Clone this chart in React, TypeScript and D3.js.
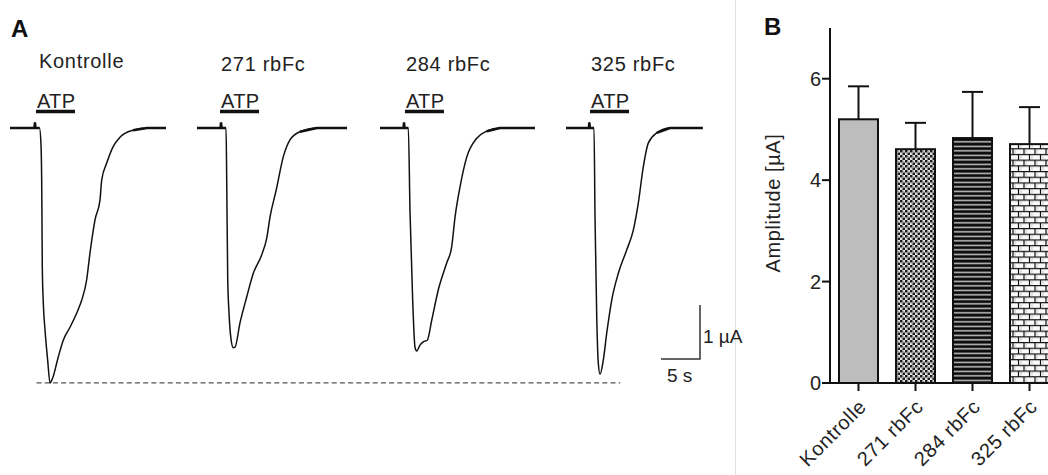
import React from "react";
import * as d3 from "d3";

// ---------- Panel A data: current traces [time (s), current (µA)] ----------
const traceNames = ["Kontrolle", "271 rbFc", "284 rbFc", "325 rbFc"];

const traceKontrolle: [number, number][] = [
  [0, 0], [3.14, 0], [3.2, 0.1], [3.26, 0], [3.78, 0], [3.97, -0.3], [4.06, -0.96], [4.1, -1.67],
  [4.14, -2.57], [4.27, -3.24], [4.49, -3.74], [4.83, -4.3], [5.13, -4.72], [5.47, -4.63],
  [6.19, -4.24], [6.83, -3.93], [7.69, -3.69], [8.72, -3.37], [9.19, -3.19], [9.83, -2.81],
  [10.26, -2.31], [10.9, -1.7], [11.54, -1.33], [11.76, -0.96], [12.4, -0.65], [13.21, -0.35],
  [14.1, -0.17], [15.77, -0.04], [17.56, 0], [20, 0],
];
const trace271: [number, number][] = [
  [0, 0], [3.03, 0], [3.08, 0.1], [3.14, 0], [3.72, 0], [3.81, -0.96], [3.94, -2.81], [4.1, -3.41],
  [4.36, -3.91], [4.65, -4.07], [4.87, -4.06], [5.51, -3.61], [6.37, -3.13], [7.22, -2.69],
  [8.29, -2.35], [8.94, -2.04], [9.36, -1.65], [10.15, -1.15], [11.07, -0.53], [11.92, -0.22],
  [13.2, -0.07], [15.38, 0], [19.23, 0],
];
const trace284: [number, number][] = [
  [0, 0], [3.03, 0], [3.08, 0.1], [3.14, 0], [3.63, 0], [3.85, -1.57], [4.19, -3.19], [4.49, -4.06],
  [4.71, -4.13], [5.13, -4.02], [5.55, -3.96], [6.06, -3.93], [6.63, -3.56], [7.47, -3.0],
  [8.55, -2.5], [9.19, -2.2], [9.62, -1.65], [10.26, -1.09], [11.12, -0.54], [12.4, -0.19],
  [13.68, -0.06], [15.38, 0], [19.87, 0],
];
const trace325: [number, number][] = [
  [0, 0], [2.94, 0], [2.99, 0.1], [3.05, 0], [3.59, 0], [3.72, -1.65], [3.94, -3.5], [4.14, -4.35],
  [4.36, -4.56], [4.78, -4.3], [5.22, -3.8], [5.86, -3.19], [6.71, -2.69], [7.78, -2.26],
  [8.63, -1.89], [9.27, -1.39], [9.91, -0.72], [10.55, -0.28], [11.63, -0.09], [13.33, 0],
  [17.53, 0],
];
const traces = [traceKontrolle, trace271, trace284, trace325];
const atpOnset = [3.33, 2.95, 3.2, 3.08]; // s
const atpDuration = 5; // s
const peakReference = -4.72; // µA (Kontrolle peak, dashed line)
const scaleBarTime = 5; // s
const scaleBarCurrent = 1; // µA

// ---------- Panel B data ----------
const barCategories = ["Kontrolle", "271 rbFc", "284 rbFc", "325 rbFc"];
const barMeans = [5.2, 4.61, 4.83, 4.71];
const barSem = [0.65, 0.52, 0.91, 0.73];
const yTicks = [0, 2, 4, 6];

// ---------- layout ----------
const W = 1048;
const H = 475;
const FONT = "'Liberation Sans', Arial, sans-serif";
const traceStartX = [10, 197, 380, 566];
const labelBaseline = [67.5, 71, 71, 71];

export default function App() {
  // Panel A scales
  const tScale = d3.scaleLinear().domain([0, 20]).range([0, 156]);
  const iScale = d3.scaleLinear().domain([0, -5]).range([128, 398]);
  const line = d3
    .line<[number, number]>()
    .x((d) => tScale(d[0]))
    .y((d) => iScale(d[1]))
    .curve(d3.curveMonotoneX);
  const straight = d3
    .line<[number, number]>()
    .x((d) => tScale(d[0]))
    .y((d) => iScale(d[1]));

  const baselineSegments = (pts: [number, number][]) => {
    const segs: [number, number][][] = [];
    let cur: [number, number][] = [];
    pts.forEach((p) => {
      if (Math.abs(p[1]) <= 0.1) cur.push(p);
      else {
        if (cur.length > 1) segs.push(cur);
        cur = [];
      }
    });
    if (cur.length > 1) segs.push(cur);
    return segs;
  };

  // Panel B scales
  const yScale = d3.scaleLinear().domain([0, 7]).range([383, 28]);
  const xBand = d3
    .scaleBand<string>()
    .domain(barCategories)
    .range([830, 830 + 57 * 4])
    .paddingInner(0.316)
    .paddingOuter(0.158);
  const bw = xBand.bandwidth();
  const fills = ["#bdbdbd", "url(#pChecker)", "url(#pStripes)", "url(#pBrick)"];

  const sbX = 700;
  const sbY = 359;

  return (
    <svg
      width={W}
      height={H}
      style={{ position: "absolute", left: 0, top: 0, background: "#fff" }}
      fontFamily={FONT}
    >
      <defs>
        <pattern id="pChecker" patternUnits="userSpaceOnUse" width={5} height={5}>
          <rect width={5} height={5} fill="#f4f4f4" />
          <rect x={0} y={0} width={2.5} height={2.5} fill="#1a1a1a" />
          <rect x={2.5} y={2.5} width={2.5} height={2.5} fill="#1a1a1a" />
          <rect x={0.8} y={3.3} width={1} height={1} fill="#999" />
          <rect x={3.3} y={0.8} width={1} height={1} fill="#777" />
        </pattern>
        <pattern id="pStripes" patternUnits="userSpaceOnUse" width={8} height={4.5}>
          <rect width={8} height={4.5} fill="#0a0a0a" />
          <rect x={0} y={1.6} width={8} height={1.5} fill="#c8c8c8" />
        </pattern>
        <pattern id="pBrick" patternUnits="userSpaceOnUse" width={11} height={11.4}>
          <rect width={11} height={11.4} fill="#fafafa" />
          <line x1={0} x2={11} y1={0.6} y2={0.6} stroke="#111" strokeWidth={1.2} />
          <line x1={0} x2={11} y1={6.3} y2={6.3} stroke="#111" strokeWidth={1.2} />
          <line x1={1} x2={1} y1={0.6} y2={6.3} stroke="#111" strokeWidth={1.2} />
          <line x1={6.5} x2={6.5} y1={6.3} y2={11.4} stroke="#111" strokeWidth={1.2} />
          <line x1={3} x2={3} y1={1.5} y2={5.5} stroke="#bbb" strokeWidth={0.8} />
          <line x1={9} x2={9} y1={7.2} y2={10.8} stroke="#bbb" strokeWidth={0.8} />
        </pattern>
      </defs>

      {/* divider */}
      <line x1={735.5} x2={735.5} y1={0} y2={H} stroke="#e2e2e2" strokeWidth={1} />

      {/* ---------- Panel A ---------- */}
      <text x={11} y={37} fontSize={24} fontWeight="bold" fill="#111">A</text>

      <line
        x1={traceStartX[0] + tScale(3.4)}
        x2={traceStartX[2] + tScale(30.8)}
        y1={iScale(peakReference)}
        y2={iScale(peakReference)}
        stroke="#555"
        strokeWidth={1.4}
        strokeDasharray="5,3.2"
      />

      {traces.map((pts, k) => {
        const x0 = traceStartX[k];
        const atpX = x0 + tScale(atpOnset[k]);
        return (
          <g key={k}>
            <text
              x={atpX + (k === 0 ? 3 : 1)}
              y={labelBaseline[k]}
              fontSize={20}
              letterSpacing={0.7}
              fill="#222"
            >
              {traceNames[k]}
            </text>
            <text x={atpX + 1} y={107.5} fontSize={20} letterSpacing={0.3} fill="#222">
              ATP
            </text>
            <line
              x1={atpX}
              x2={x0 + tScale(atpOnset[k] + atpDuration)}
              y1={111.5}
              y2={111.5}
              stroke="#111"
              strokeWidth={3.5}
            />
            <g transform={`translate(${x0},0)`}>
              <path d={line(pts) || ""} fill="none" stroke="#111" strokeWidth={1.5} strokeLinejoin="round" />
              {baselineSegments(pts).map((s, j) => (
                <path key={j} d={straight(s) || ""} fill="none" stroke="#111" strokeWidth={2.6} />
              ))}
            </g>
          </g>
        );
      })}

      {/* scale bar */}
      <path
        d={`M${sbX - (tScale(scaleBarTime) - tScale(0))},${sbY}H${sbX}V${
          sbY - (iScale(-scaleBarCurrent) - iScale(0))
        }`}
        fill="none"
        stroke="#333"
        strokeWidth={1.5}
      />
      <text x={sbX + 3} y={343} fontSize={19} fill="#222">
        {scaleBarCurrent} µA
      </text>
      <text x={sbX - 33} y={382} fontSize={19} fill="#222">
        {scaleBarTime} s
      </text>

      {/* ---------- Panel B ---------- */}
      <text x={764} y={35} fontSize={24} fontWeight="bold" fill="#111">B</text>

      {/* bars */}
      {barCategories.map((c, i) => {
        const x = xBand(c)!;
        const cx = x + bw / 2;
        return (
          <g key={c}>
            <line
              x1={cx}
              x2={cx}
              y1={yScale(barMeans[i])}
              y2={yScale(barMeans[i] + barSem[i])}
              stroke="#111"
              strokeWidth={2}
            />
            <line
              x1={cx - 10.5}
              x2={cx + 10.5}
              y1={yScale(barMeans[i] + barSem[i])}
              y2={yScale(barMeans[i] + barSem[i])}
              stroke="#111"
              strokeWidth={2}
            />
            <rect
              x={x}
              y={yScale(barMeans[i])}
              width={bw}
              height={yScale(0) - yScale(barMeans[i])}
              fill={fills[i]}
              stroke="#111"
              strokeWidth={2}
            />
          </g>
        );
      })}

      {/* y axis */}
      <line x1={830} x2={830} y1={yScale(7)} y2={yScale(0) + 1} stroke="#111" strokeWidth={2} />
      {yTicks.map((t) => (
        <g key={t}>
          <line x1={822} x2={830} y1={yScale(t)} y2={yScale(t)} stroke="#111" strokeWidth={2} />
          <text x={821} y={yScale(t)} dy="0.36em" textAnchor="end" fontSize={20} fill="#222">
            {t}
          </text>
        </g>
      ))}
      <text
        transform={`translate(780,203) rotate(-90)`}
        textAnchor="middle"
        fontSize={20}
        letterSpacing={0.6}
        fill="#222"
      >
        Amplitude [µA]
      </text>

      {/* x axis */}
      <line x1={822} x2={W} y1={yScale(0)} y2={yScale(0)} stroke="#111" strokeWidth={2} />
      {barCategories.map((c) => {
        const cx = xBand(c)! + bw / 2;
        return (
          <g key={c}>
            <line x1={cx} x2={cx} y1={yScale(0)} y2={yScale(0) + 8} stroke="#111" strokeWidth={2} />
            <text
              transform={`translate(${cx + 9},${yScale(0) + 25}) rotate(-45)`}
              textAnchor="end"
              fontSize={20}
              letterSpacing={0.6}
              fill="#222"
            >
              {c}
            </text>
          </g>
        );
      })}
    </svg>
  );
}
